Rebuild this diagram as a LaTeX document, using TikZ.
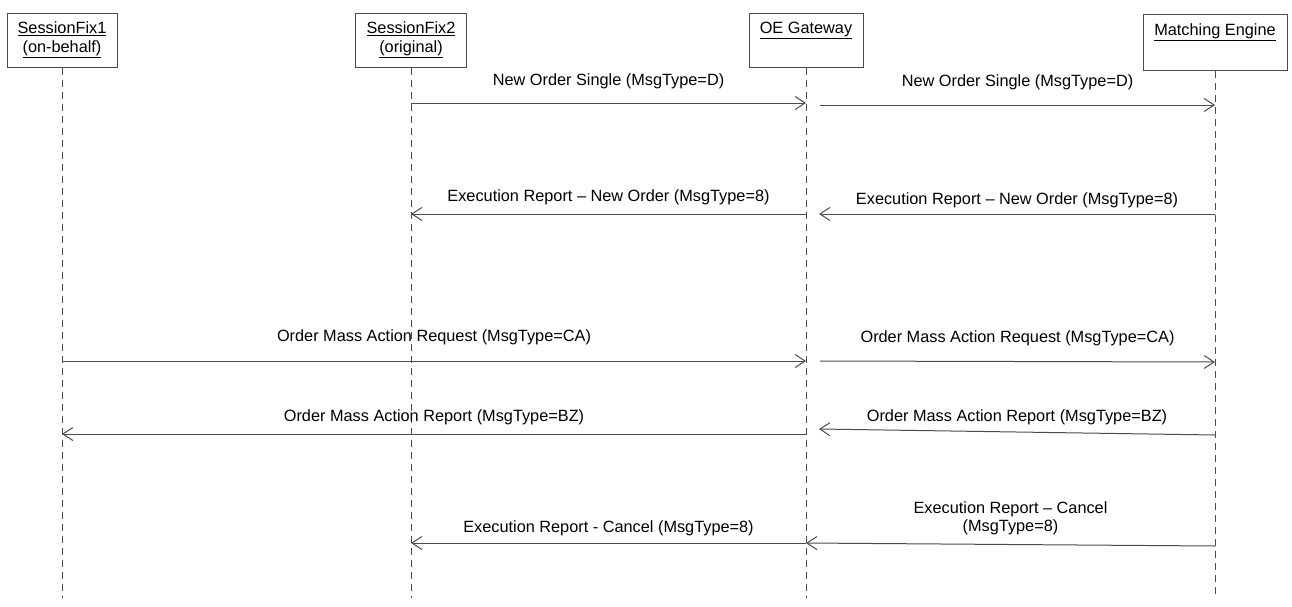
\documentclass[tikz,border=0pt]{standalone}
\usepackage{fontspec}
\setmainfont{Liberation Sans}
\usepackage{tikz}
\usetikzlibrary{arrows.meta,calc}

\tikzset{
  box/.style={draw=black!70, line width=1pt, minimum height=54pt, align=center, inner sep=2pt, text=black},
  life/.style={draw=black!70, line width=0.9pt, dash pattern=on 7pt off 5pt},
  msg/.style={draw=black!70, line width=1pt, -{Straight Barb[length=10pt, width=13pt, line width=1pt]}},
  lbl/.style={midway, text=black, align=center, inner sep=0pt}
}

\begin{document}
\begin{tikzpicture}[x=1pt, y=-1pt, font=\fontsize{16.3}{18.5}\selectfont]
    \useasboundingbox (0,0) rectangle (1292,606);
    \node[box, minimum width=110pt] (sf1) at (62,40) {\underline{SessionFix1}\\\underline{(on-behalf)}};
    \node[box, minimum width=111pt] (sf2) at (411,40) {\underline{SessionFix2}\\\underline{(original)}};
    \node[box, minimum width=114pt] (gw) at (806,40) {\underline{OE Gateway}\\\strut};
    \node[box, minimum width=144pt, minimum height=56pt] (me) at (1215,42) {\underline{Matching Engine}\\\strut};
    \draw[life] (sf1.south) -- (sf1 |- 0,598);
    \draw[life] (sf2.south) -- (sf2 |- 0,598);
    \draw[life] (gw.south) -- (gw |- 0,598);
    \draw[life] (me.south) -- (me |- 0,598);
    \draw[msg] (sf2 |- 0,103) -- (gw |- 0,103) node[lbl, yshift=22pt] {New Order Single (MsgType=D)};
    \draw[msg] ($(gw |- 0,105)+(14,0)$) -- (me |- 0,105) node[lbl, yshift=23pt] {New Order Single (MsgType=D)};
    \draw[msg] (gw |- 0,214) -- (sf2 |- 0,214) node[lbl, yshift=17pt] {Execution Report -- New Order (MsgType=8)};
    \draw[msg] (me |- 0,214) -- ($(gw |- 0,214)+(13,0)$) node[lbl, yshift=14pt] {Execution Report -- New Order (MsgType=8)};
    \draw[msg] (sf1 |- 0,361) -- (gw |- 0,361) node[lbl, yshift=24pt] {Order Mass Action Request (MsgType=CA)};
    \draw[msg] ($(gw |- 0,361)+(14,0)$) -- (me |- 0,362) node[lbl, yshift=23pt] {Order Mass Action Request (MsgType=CA)};
    \draw[msg] (gw |- 0,434) -- (sf1 |- 0,434) node[lbl, yshift=17pt] {Order Mass Action Report (MsgType=BZ)};
    \draw[msg] (me |- 0,435) -- ($(gw |- 0,429)+(13,0)$) node[lbl, yshift=15pt] {Order Mass Action Report (MsgType=BZ)};
    \draw[msg] (gw |- 0,543) -- (sf2 |- 0,543) node[lbl, yshift=15pt] {Execution Report - Cancel (MsgType=8)};
    \draw[msg] (me |- 0,546) -- (gw |- 0,543) node[lbl, yshift=26pt] {Execution Report -- Cancel\\(MsgType=8)};
  \end{tikzpicture}
\end{document}
